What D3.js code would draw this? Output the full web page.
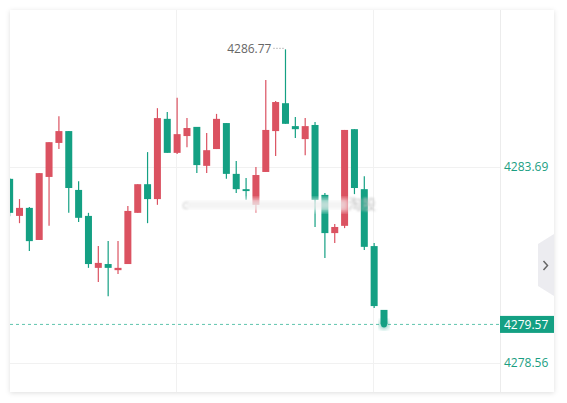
<!DOCTYPE html>
<html>
<head>
<meta charset="utf-8">
<script src="https://cdn.jsdelivr.net/npm/d3@7"></script>
<style>
  html, body { margin: 0; padding: 0; background: #fff; }
  svg { display: block; font-family: "Open Sans", "Noto Sans", sans-serif; }
</style>
</head>
<body>
<svg id="chart" width="567" height="403"></svg>
<script>
// candle values, oldest first (red = close above open, green = close below open)
const opens  = [4283.38, 4282.41, 4282.62, 4281.78, 4283.43, 4284.32, 4284.63, 4283.09, 4282.41, 4281.05,
                4281.15, 4280.99, 4281.15, 4282.49, 4283.24, 4282.85, 4284.95, 4284.06, 4284.50, 4284.74,
                4283.72, 4284.16, 4284.84, 4283.51, 4283.11, 4282.70, 4283.56, 4284.63, 4285.36, 4284.76,
                4284.42, 4284.79, 4282.96, 4281.96, 4282.15, 4284.68, 4283.11, 4281.62, 4279.95];
const closes = [4282.49, 4282.62, 4281.75, 4283.53, 4284.34, 4284.63, 4283.14, 4282.36, 4281.15, 4281.18,
                4281.05, 4281.05, 4282.54, 4283.24, 4282.85, 4284.97, 4284.06, 4284.55, 4284.71, 4283.74,
                4284.13, 4284.95, 4283.51, 4283.11, 4283.06, 4283.48, 4284.66, 4285.39, 4284.82, 4284.68,
                4284.76, 4282.83, 4281.96, 4282.12, 4284.66, 4283.14, 4281.60, 4280.05, 4279.57];
const highs  = [4283.40, 4282.85, 4282.64, 4283.53, 4284.34, 4285.02, 4284.63, 4283.32, 4282.49, 4281.62,
                4281.75, 4281.75, 4282.67, 4283.24, 4284.08, 4285.23, 4285.13, 4285.50, 4284.97, 4284.74,
                4284.58, 4285.08, 4284.84, 4283.85, 4283.40, 4283.69, 4285.97, 4285.42, 4286.77, 4285.00,
                4284.97, 4284.87, 4283.01, 4282.20, 4284.66, 4284.68, 4283.45, 4281.70, 4279.95];
const lows   = [4282.40, 4282.22, 4281.49, 4281.78, 4282.15, 4284.16, 4282.49, 4282.25, 4281.05, 4280.68,
                4280.31, 4280.89, 4281.15, 4282.49, 4282.22, 4282.70, 4284.06, 4284.03, 4284.21, 4283.53,
                4283.53, 4284.16, 4283.38, 4283.01, 4282.83, 4282.49, 4283.56, 4283.98, 4284.82, 4284.45,
                4284.00, 4282.12, 4281.31, 4281.70, 4282.09, 4282.98, 4281.52, 4280.00, 4279.57];
const tickValues = [4283.69, 4278.56];
const tickLabels = ["4283.69", "4278.56"];
const lastPrice = 4279.57;
const highLabel = "4286.77";

const red = "#db5261", green = "#14a083";
const svg = d3.select("svg#chart");

// card bounds and plot area
const card = { x: 10, y: 10, w: 544, h: 382 };
const plotRight = 500;

const defs = svg.append("defs");
const shadow = defs.append("filter").attr("id", "shadow")
  .attr("x", "-5%").attr("y", "-5%").attr("width", "110%").attr("height", "110%");
shadow.append("feDropShadow").attr("dx", 0).attr("dy", 1).attr("stdDeviation", 2.5)
  .attr("flood-color", "#000").attr("flood-opacity", 0.13);
defs.append("filter").attr("id", "blur").append("feGaussianBlur").attr("stdDeviation", 2.2);
defs.append("filter").attr("id", "softblur").append("feGaussianBlur").attr("stdDeviation", 0.8);
defs.append("filter").attr("id", "glow").append("feGaussianBlur").attr("stdDeviation", 2);
defs.append("clipPath").attr("id", "plotClip").append("rect")
  .attr("x", card.x).attr("y", card.y).attr("width", plotRight - card.x).attr("height", card.h);

svg.append("rect")
  .attr("x", card.x).attr("y", card.y).attr("width", card.w).attr("height", card.h)
  .attr("fill", "#fff").attr("filter", "url(#shadow)");

// scales
const x = d3.scaleLinear().domain([0, opens.length - 1]).range([9.65, 384]);
const y = d3.scaleLinear().domain([tickValues[1], tickValues[0]]).range([363, 167]);
const bodyW = 7;

// grid
const grid = svg.append("g").attr("stroke", "#f1f1f1").attr("stroke-width", 1);
grid.selectAll("line.h").data(tickValues).enter().append("line")
  .attr("x1", card.x).attr("x2", plotRight)
  .attr("y1", (d) => Math.round(y(d)) + 0.5).attr("y2", (d) => Math.round(y(d)) + 0.5);
grid.selectAll("line.v").data([17, 37]).enter().append("line")
  .attr("x1", (d) => Math.round(x(d)) - 0.5).attr("x2", (d) => Math.round(x(d)) - 0.5)
  .attr("y1", card.y).attr("y2", card.y + card.h);
svg.append("line")
  .attr("x1", plotRight + 0.5).attr("x2", plotRight + 0.5)
  .attr("y1", card.y).attr("y2", card.y + card.h)
  .attr("stroke", "#ececec");

// candles
const candles = svg.append("g").attr("clip-path", "url(#plotClip)")
  .selectAll("g.candle").data(opens.map((o, i) => ({
    i, o, c: closes[i], h: highs[i], l: lows[i]
  })))
  .enter().append("g").attr("class", "candle");

candles.append("line")
  .attr("x1", (d) => x(d.i)).attr("x2", (d) => x(d.i))
  .attr("y1", (d) => y(d.h)).attr("y2", (d) => y(d.l))
  .attr("stroke", (d) => (d.c >= d.o ? red : green))
  .attr("stroke-width", 1.2);

candles.append("rect")
  .attr("x", (d) => x(d.i) - bodyW / 2)
  .attr("y", (d) => y(Math.max(d.o, d.c)))
  .attr("width", bodyW)
  .attr("height", (d) => Math.max(1.5, Math.abs(y(d.o) - y(d.c))))
  .attr("fill", (d) => (d.c >= d.o ? red : green));

// blurred watermark over the middle
const wm = svg.append("g");
wm.append("rect").attr("x", 184).attr("y", 198).attr("width", 165).attr("height", 14)
  .attr("fill", "#fff").attr("opacity", 0.55).attr("filter", "url(#blur)");
wm.append("rect").attr("x", 186).attr("y", 201).attr("width", 160).attr("height", 8)
  .attr("fill", "#e6e6e6").attr("opacity", 0.5).attr("filter", "url(#blur)");
wm.append("text").attr("x", 182).attr("y", 209).attr("font-size", 13)
  .attr("fill", "#d0d0d0").attr("filter", "url(#softblur)").text("c");
wm.append("text").attr("x", 348).attr("y", 209).attr("font-size", 14)
  .attr("font-family", "Noto Sans CJK SC").attr("fill", "#c4c4c4")
  .attr("filter", "url(#softblur)").text("淘股");

// highest price marker
const hiIdx = highs.indexOf(d3.max(highs));
svg.append("line")
  .attr("x1", x(hiIdx) - 12).attr("x2", x(hiIdx))
  .attr("y1", y(highs[hiIdx]) - 1).attr("y2", y(highs[hiIdx]) - 1)
  .attr("stroke", "#888").attr("stroke-dasharray", "1,2");
svg.append("text")
  .attr("x", x(hiIdx) - 14).attr("y", y(highs[hiIdx]))
  .attr("text-anchor", "end").attr("dominant-baseline", "middle")
  .attr("font-size", 12).attr("fill", "#666").text(highLabel);

// last price line and dot
svg.append("line")
  .attr("x1", card.x).attr("x2", plotRight)
  .attr("y1", y(lastPrice)).attr("y2", y(lastPrice))
  .attr("stroke", "#5fc4ad").attr("stroke-width", 1).attr("stroke-dasharray", "3,3");
const lastX = x(opens.length - 1);
svg.append("circle").attr("cx", lastX).attr("cy", y(lastPrice)).attr("r", 5)
  .attr("fill", green).attr("opacity", 0.45).attr("filter", "url(#glow)");
svg.append("circle").attr("cx", lastX).attr("cy", y(lastPrice)).attr("r", 3)
  .attr("fill", green);

// right axis labels
const axis = svg.append("g");
axis.selectAll("text").data(tickValues).enter().append("text")
  .attr("x", 504).attr("y", (d) => y(d) + 1)
  .attr("dominant-baseline", "middle")
  .attr("font-size", 12).attr("fill", "#1a9e82")
  .text((d, i) => tickLabels[i]);
axis.append("rect")
  .attr("x", plotRight).attr("y", y(lastPrice) - 8.5).attr("width", card.x + card.w - plotRight).attr("height", 17)
  .attr("fill", green);
axis.append("text")
  .attr("x", 504).attr("y", y(lastPrice) + 1)
  .attr("dominant-baseline", "middle")
  .attr("font-size", 12).attr("fill", "#fff").text(lastPrice.toFixed(2));

// side toggle tab
svg.append("path")
  .attr("d", "M538,244 L554,234 L554,296 L538,286 Z")
  .attr("fill", "#ececf0");
svg.append("path")
  .attr("d", "M543.5,261 L547.5,265.5 L543.5,270")
  .attr("fill", "none").attr("stroke", "#666").attr("stroke-width", 1.5);
</script>
</body>
</html>
